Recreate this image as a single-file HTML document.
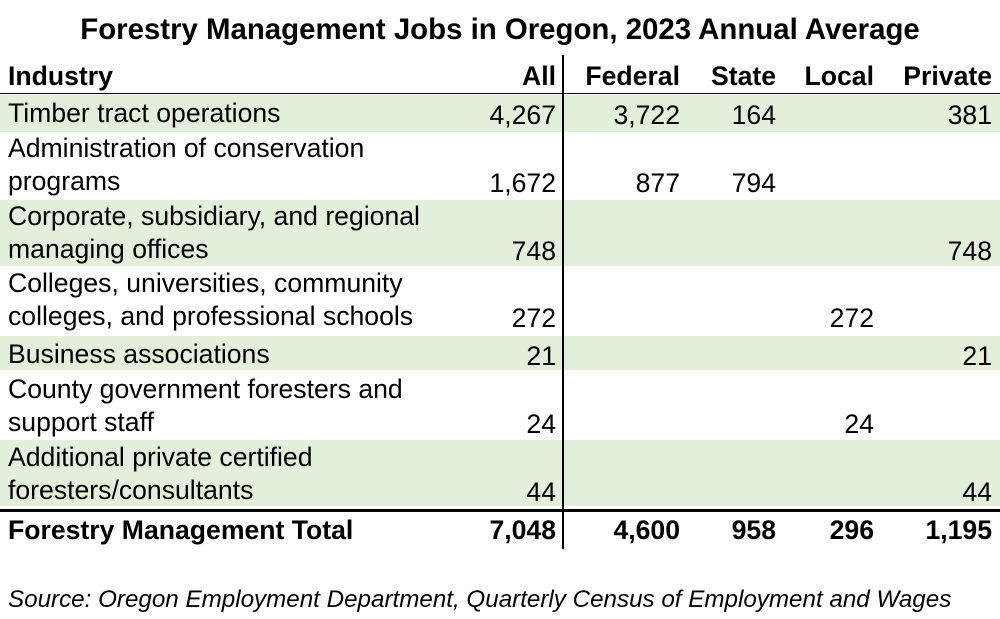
<!DOCTYPE html>
<html><head><meta charset="utf-8"><style>
body{margin:0;width:1000px;height:619px;background:#fff;font-family:"Liberation Sans",Arial,sans-serif;color:#000;position:relative;overflow:hidden}
.t{position:absolute;font-size:26.6px;line-height:26px;white-space:nowrap}
.r{text-align:right}
.b{font-weight:bold}
.g{position:absolute;left:0;width:1000px;background:#e2efda}
.ln{position:absolute;background:#000}
</style></head><body>
<div class="t b" style="left:0;width:1000px;text-align:center;top:15px;font-size:29.4px;line-height:29px">Forestry Management Jobs in Oregon, 2023 Annual Average</div>

<div class="g" style="top:95px;height:37px"></div>
<div class="g" style="top:200px;height:66px"></div>
<div class="g" style="top:336px;height:34px"></div>
<div class="g" style="top:440px;height:66px"></div>

<div class="ln" style="left:0;top:93px;width:1000px;height:1px"></div>
<div class="ln" style="left:0;top:509px;width:1000px;height:3px"></div>
<div class="ln" style="left:562px;top:55px;width:2px;height:494px"></div>

<div class="t b" style="left:8px;top:63px">Industry</div>
<div class="t b r" style="right:444px;top:63px">All</div>
<div class="t b r" style="right:320px;top:63px">Federal</div>
<div class="t b r" style="right:224px;top:63px">State</div>
<div class="t b r" style="right:126px;top:63px">Local</div>
<div class="t b r" style="right:8px;top:63px">Private</div>

<div class="t" style="left:8px;top:100px">Timber tract operations</div>
<div class="t r" style="right:444px;top:102px">4,267</div>
<div class="t r" style="right:320px;top:102px">3,722</div>
<div class="t r" style="right:224px;top:102px">164</div>
<div class="t r" style="right:8px;top:102px">381</div>

<div class="t" style="left:8px;top:135px">Administration of conservation</div>
<div class="t" style="left:8px;top:168px">programs</div>
<div class="t r" style="right:444px;top:170px">1,672</div>
<div class="t r" style="right:320px;top:170px">877</div>
<div class="t r" style="right:224px;top:170px">794</div>

<div class="t" style="left:8px;top:203px">Corporate, subsidiary, and regional</div>
<div class="t" style="left:8px;top:236px">managing offices</div>
<div class="t r" style="right:444px;top:238px">748</div>
<div class="t r" style="right:8px;top:238px">748</div>

<div class="t" style="left:8px;top:270px">Colleges, universities, community</div>
<div class="t" style="left:8px;top:303px">colleges, and professional schools</div>
<div class="t r" style="right:444px;top:305px">272</div>
<div class="t r" style="right:126px;top:305px">272</div>

<div class="t" style="left:8px;top:341px">Business associations</div>
<div class="t r" style="right:444px;top:343px">21</div>
<div class="t r" style="right:8px;top:343px">21</div>

<div class="t" style="left:8px;top:376px">County government foresters and</div>
<div class="t" style="left:8px;top:409px">support staff</div>
<div class="t r" style="right:444px;top:411px">24</div>
<div class="t r" style="right:126px;top:411px">24</div>

<div class="t" style="left:8px;top:444px">Additional private certified</div>
<div class="t" style="left:8px;top:477px">foresters/consultants</div>
<div class="t r" style="right:444px;top:479px">44</div>
<div class="t r" style="right:8px;top:479px">44</div>

<div class="t b" style="left:8px;top:517px">Forestry Management Total</div>
<div class="t b r" style="right:444px;top:517px">7,048</div>
<div class="t b r" style="right:320px;top:517px">4,600</div>
<div class="t b r" style="right:224px;top:517px">958</div>
<div class="t b r" style="right:126px;top:517px">296</div>
<div class="t b r" style="right:8px;top:517px">1,195</div>

<div class="t" style="left:8px;top:588px;font-size:24.2px;line-height:24px;font-style:italic">Source: Oregon Employment Department, Quarterly Census of Employment and Wages</div>
</body></html>
